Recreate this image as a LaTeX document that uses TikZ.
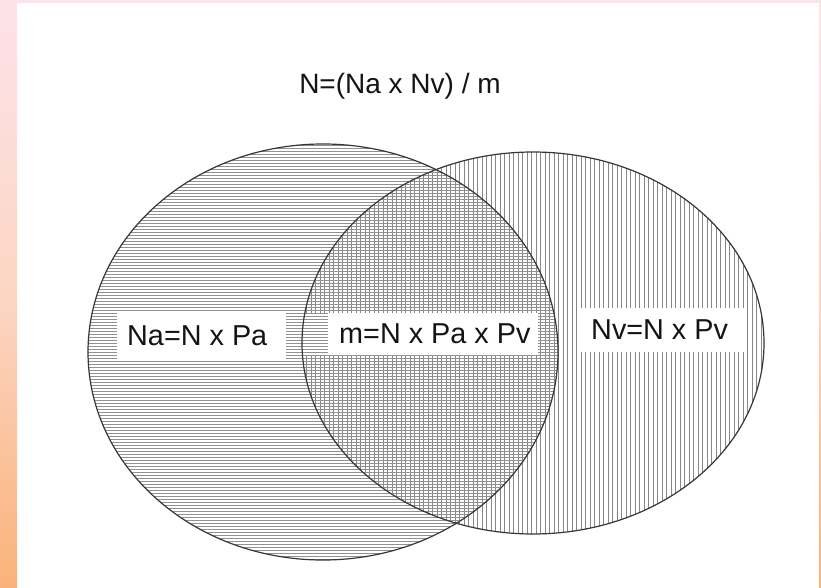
\documentclass[tikz,border=0pt]{standalone}
\usepackage{fontspec}
\setmainfont{Liberation Sans}
\definecolor{pinkedge}{RGB}{253,226,234}
\definecolor{peachmid}{RGB}{252,214,196}
\definecolor{orangeedge}{RGB}{250,178,122}
\definecolor{hatchA}{RGB}{145,145,145}
\definecolor{hatchB}{RGB}{135,135,135}
\definecolor{rim}{RGB}{55,55,55}
\definecolor{ink}{RGB}{20,20,20}
\tikzset{
  rimline/.style={draw=rim, line width=1.2pt},
  hlines/.style={draw=hatchA, line width=0.9pt},
  vlines/.style={draw=hatchB, line width=0.9pt},
  formula/.style={fill=white, inner sep=0pt, text=ink, font=\fontsize{28.8}{32}\selectfont, anchor=west},
  title/.style={text=ink, inner sep=0pt, font=\fontsize{28}{32}\selectfont},
}
\begin{document}
\begin{tikzpicture}[x=1pt,y=-1pt]
  \useasboundingbox (0,0) rectangle (821,588);
  \fill[white] (0,0) rectangle (821,588);
  % frame strips
  \shade[top color=pinkedge, bottom color=orangeedge, middle color=peachmid] (0,0) rectangle (17,588);
  \shade[top color=pinkedge, bottom color=orangeedge, middle color=peachmid] (819,0) rectangle (821,588);
  \fill[pinkedge] (17,0) rectangle (819,3.5);

  % right set: vertical hatching
  \begin{scope}
    \clip (533,343) ellipse [x radius=231, y radius=191];
    \foreach \x in {302,306.5,...,766} \draw[vlines] (\x,150) -- (\x,536);
  \end{scope}
  % gap in the vertical hatching left of the middle label
  \fill[white] (287,313) rectangle (328,355);
  % left set: horizontal hatching
  \begin{scope}
    \clip (323,352) ellipse [x radius=235, y radius=208];
    \foreach \y in {145,148,...,560} \draw[hlines] (86,\y) -- (560,\y);
  \end{scope}

  % outlines
  \draw[rimline] (323,352) ellipse [x radius=235, y radius=208];
  \draw[rimline] (533,343) ellipse [x radius=231, y radius=191];

  % labels
  \node[formula, minimum height=46] (na) at (117,336) {\hspace*{10pt}Na=N x Pa\hspace*{19pt}};
  \node[formula, minimum height=42] (m) at (328,334) {\hspace*{11pt}m=N x Pa x Pv\hspace*{8pt}};
  \node[formula, minimum height=44] (nv) at (580,330) {\hspace*{11pt}Nv=N x Pv\hspace*{19pt}};
  \node[title] (n) at (400,86) {N=(Na x Nv) / m};
\end{tikzpicture}
\end{document}
